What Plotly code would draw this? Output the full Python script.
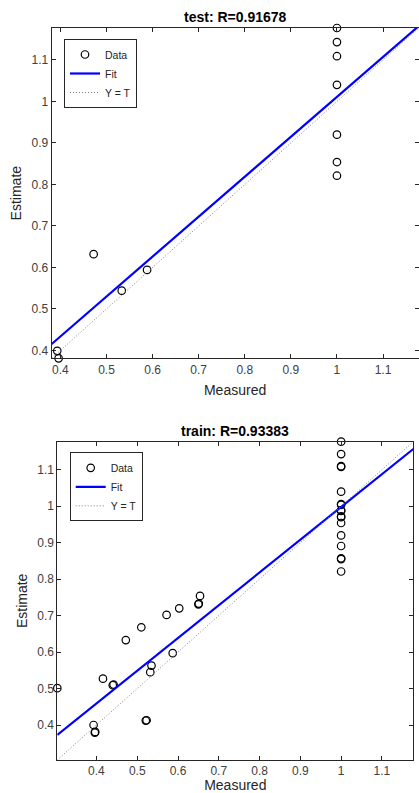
import plotly.graph_objects as go

# ---- test set: measured targets vs. network estimates ----
test_measured = [1.0, 1.0, 1.0, 1.0, 1.0, 1.0, 1.0, 0.472, 0.533, 0.588, 0.393, 0.396]
test_estimate = [1.177, 1.143, 1.109, 1.040, 0.920, 0.854, 0.821, 0.632, 0.544, 0.594, 0.399, 0.381]
test_fit = [0.962, 0.049]          # slope, intercept
test_title = "test: R=0.91678"

# ---- train set ----
train_measured = [1.0, 1.0, 1.0, 1.0, 1.0, 1.0, 1.0, 1.0, 1.0, 1.0, 1.0, 1.0, 1.0, 1.0, 1.0, 1.0, 1.0,
                  0.654, 0.650, 0.651, 0.603, 0.572, 0.510, 0.472, 0.587, 0.535, 0.532,
                  0.416, 0.440, 0.442, 0.304, 0.521, 0.523, 0.393, 0.396, 0.397]
train_estimate = [1.177, 1.143, 1.108, 1.110, 1.040, 1.004, 1.006, 0.987, 0.989, 0.970, 0.972,
                  0.954, 0.920, 0.891, 0.855, 0.857, 0.821,
                  0.754, 0.731, 0.733, 0.720, 0.702, 0.668, 0.633, 0.597, 0.563, 0.545,
                  0.527, 0.509, 0.511, 0.501, 0.412, 0.413, 0.400, 0.379, 0.381]
train_fit = [0.898, 0.100]
train_title = "train: R=0.93383"

tick_vals = [0.4, 0.5, 0.6, 0.7, 0.8, 0.9, 1.0, 1.1]
tick_text = ["0.4", "0.5", "0.6", "0.7", "0.8", "0.9", "1", "1.1"]

FONT = "Liberation Sans, Arial, sans-serif"
AX_COLOR = "#262626"
W, H = 419, 793

fig = go.Figure()


def add_panel(measured, estimate, fit, xa, ya, legend_name):
    lo = min(min(measured), min(estimate))
    hi = max(max(measured), max(estimate))
    fig.add_trace(go.Scatter(
        x=measured, y=estimate, mode="markers", name="Data", cliponaxis=False,
        marker=dict(symbol="circle-open", size=7.5, color="black", line=dict(width=1.2, color="black")),
        xaxis=xa, yaxis=ya, legend=legend_name,
    ))
    fig.add_trace(go.Scatter(
        x=[lo, hi], y=[fit[0] * lo + fit[1], fit[0] * hi + fit[1]],
        mode="lines", name="Fit", line=dict(color="#0000ff", width=2.2),
        xaxis=xa, yaxis=ya, legend=legend_name,
    ))
    fig.add_trace(go.Scatter(
        x=[lo, hi], y=[lo, hi], mode="lines", name="Y = T",
        line=dict(color="#808080", width=1, dash="1px,2px"),
        xaxis=xa, yaxis=ya, legend=legend_name,
    ))
    return [lo, hi]


rng_test = add_panel(test_measured, test_estimate, test_fit, "x", "y", "legend")
rng_train = add_panel(train_measured, train_estimate, train_fit, "x2", "y2", "legend2")


def px_x(p):
    return p / W


def px_y(p):
    return 1 - p / H


axis_common = dict(
    tickvals=tick_vals, ticktext=tick_text, ticks="inside", ticklen=4, tickwidth=1,
    tickcolor=AX_COLOR, showline=True, linecolor=AX_COLOR, linewidth=1, mirror="ticks",
    showgrid=False, zeroline=False, tickfont=dict(family=FONT, size=12, color="#404040"),
    automargin=False,
)
title_font = dict(size=14, family=FONT, color="#262626")
legend_common = dict(xanchor="left", yanchor="top", bgcolor="white", bordercolor=AX_COLOR,
                     borderwidth=1, font=dict(family=FONT, size=10.5, color="#262626"),
                     itemwidth=30, tracegroupgap=0)

fig.update_layout(
    width=W, height=H, margin=dict(l=0, r=0, t=0, b=0),
    paper_bgcolor="white", plot_bgcolor="white",
    font=dict(family=FONT, color=AX_COLOR),
    xaxis=dict(domain=[px_x(51.7), px_x(418.5)], range=rng_test, anchor="y",
               title=dict(text="Measured", font=title_font, standoff=9), **axis_common),
    yaxis=dict(domain=[px_y(358.3), px_y(28)], range=rng_test, anchor="x",
               title=dict(text="Estimate", font=title_font, standoff=6), **axis_common),
    xaxis2=dict(domain=[px_x(57.3), px_x(413.3)], range=rng_train, anchor="y2",
                title=dict(text="Measured", font=title_font, standoff=10), **axis_common),
    yaxis2=dict(domain=[px_y(760), px_y(441.7)], range=rng_train, anchor="x2",
                title=dict(text="Estimate", font=title_font, standoff=6), **axis_common),
    legend=dict(x=px_x(64), y=px_y(39), **legend_common),
    legend2=dict(x=px_x(69.7), y=px_y(452.3), **legend_common),
    annotations=[
        dict(text="<b>" + test_title + "</b>", x=px_x(235), y=px_y(16.5), xref="paper", yref="paper",
             xanchor="center", yanchor="middle", showarrow=False,
             font=dict(family=FONT, size=14, color="black")),
        dict(text="<b>" + train_title + "</b>", x=px_x(235.3), y=px_y(430.7), xref="paper", yref="paper",
             xanchor="center", yanchor="middle", showarrow=False,
             font=dict(family=FONT, size=14, color="black")),
    ],
)

fig.write_html("out.html")
